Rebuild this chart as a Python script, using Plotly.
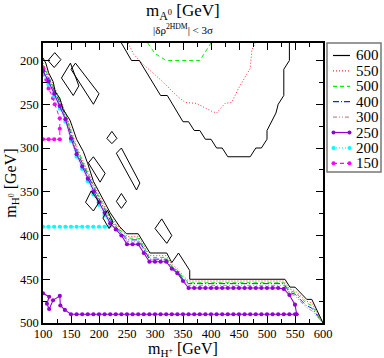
import plotly.graph_objects as go

# ---------------- data ----------------
# 600 GeV (black): main staircase boundary
s600_x = [100,105,110,118,122,130,136,142,148,152,160,172,180,190,200,210,220,237,249,270,291,321,330,342,362,362,532,541,550,571,580,600]
s600_y = [197,203,214,224,236,243,256,262,268,275,290,304,318,338,350,362,374,390,398,398,420,420,431,420,440,450,450,459,459,473,473,500]
# 600 GeV: upper "U" contour
s600u_x = [240,258,272,310,322,350,360,370,380,390,400,410,420,430,470,480,490,500,500,516,520,530,530,540,540]
s600u_y = [180,200,200,240,240,270,270,280,280,290,290,300,300,310,310,300,300,290,280,260,250,240,210,200,180]
# 600 GeV: small closed islands
isl_x = [
    [109,121,132,120,109],
    [133,149,164,154,133],
    [150,158,200,190,150],
    [214,223,232,223,214],
    [181,190,211,202,181],
    [231,240,273,267,231],
    [231,240,249,240,231],
    [300,312,330,321,300],
    [176,186,200,190,176],
    [207,215,225,218,207],
]
isl_y = [
    [200,191,199,208,200],
    [220,203,229,240,220],
    [210,203,238,250,210],
    [289,281,289,295,289],
    [317,310,329,339,317],
    [306,300,340,348,306],
    [361,352,361,369,361],
    [392,381,400,409,392],
    [362,349,362,372,362],
    [380,371,385,392,380],
]

# shared vertex positions of the 550/500/400/300 staircases
stair_x = [100,110,120,130,140,150,160,170,180,190,200,210,220,230,240,250,270,280,290,320,330,340,350,360,530,540,550,570,580,600]
s550_y = [203,216,230,244,259,279,298,313,327,342,354,366,378,386,393,401,401,411,423,423,433,438,446,452,452,461,463,475,477,500]
s500_y = [205,218,232,246,261,281,300,315,329,344,356,368,380,388,395,403,403,413,425,425,435,440,448,454,454,463,465,477,480,500]
s400_y = [207,220,234,248,263,284,303,317,331,346,358,370,382,390,397,405,405,415,427,427,436,441,450,455,455,465,467,480,483,500]
s300_y = [209,222,236,250,265,286,305,319,333,348,360,372,384,391,398,407,407,417,428,428,437,442,451,457,457,466,469,482,486,500]

# 550 GeV upper contour
s550u_x = [252,262,280,310,340,354,374,386,401,410,425,437,449,460,470,473,479]
s550u_y = [180,193,205,222,241,248,249,253,258,260,249,248,232,220,209,188,180]
# 500 GeV upper contour
s500u_x = [287,300,320,380,400]
s500u_y = [180,192,200,200,180]

# 250 GeV (violet, markers)
s250_x = [100,110,120,130,140,150,160,170,180,190,200,210,220,230,240,250,260,270,280,290,300,310,320,330,340,350,360,
          370,380,390,400,410,420,430,440,450,460,470,480,490,500,510,520,530,540,550,553,
          550,540,530,520,510,500,490,480,470,460,450,440,430,420,410,400,390,380,370,360,350,340,330,320,310,300,
          290,280,270,260,250,240,230,220,210,200,190,180,170,160,150,139,131,130,118,111,107,111,100]
s250_y = [212,224,238,252,267,289,307,321,335,350,362,374,386,393,400,410,410,410,420,430,430,430,430,438,443,452,460,
          460,460,460,460,460,460,460,460,460,460,460,460,460,460,460,460,461,468,479,490,
          490,490,490,490,490,490,490,490,490,490,490,490,490,490,490,490,490,490,490,490,490,490,490,490,490,490,
          490,490,490,490,490,490,490,490,490,490,490,490,490,490,490,485,480,469,474,484,478,470,466]

# 200 GeV (cyan, markers)
s200_x = [100,110,120,130,140,150,160,170,180,190,200,210,220,210,200,190,180,170,160,150,140,130,120,110,100]
s200_y = [390,390,390,390,390,390,390,390,390,390,390,390,389,377,365,353,338,324,310,292,270,255,241,227,215]

# 150 GeV (magenta, markers)
s150_x = [100,110,120,130,130,130,121,118,110,106,100,100]
s150_y = [290,290,290,290,278,266,250,243,232,222,216,209]

legend_labels = ["600", "550", "500", "400", "300", "250", "200", "150"]

# ---------------- styles ----------------
BLACK = "#000000"; RED = "#ff3030"; GREEN = "#00ee00"; BLUE = "#2020ff"
BROWN = "#bc8f8f"; VIOLET = "#9400d3"; CYAN = "#00ffff"; MAGENTA = "#ff00ff"
DOT = "1px,2px"; DASH = "4px,3px"; DASHDOT = "6px,2px,1px,2px"; DASHDOT2 = "4px,2px,1px,2px,1px,2px"
FONT = "Liberation Serif"

fig = go.Figure()

def add_line(x, y, color, dash, name, width=1.0, markers=False):
    fig.add_trace(go.Scatter(
        x=x, y=y, mode="lines+markers" if markers else "lines", name=name,
        line=dict(color=color, dash=dash, width=width),
        marker=dict(color=color, size=4.2, symbol="circle") if markers else None,
        showlegend=False, hoverinfo="skip"))

# black islands combined with None separators
ix, iy = [], []
for xs, ys in zip(isl_x, isl_y):
    ix += xs + [None]
    iy += ys + [None]

add_line(stair_x, s300_y, BROWN, DASHDOT2, "300")
add_line(stair_x, s400_y, BLUE, DASHDOT, "400")
add_line(stair_x, s500_y, GREEN, DASH, "500")
add_line(s500u_x, s500u_y, GREEN, DASH, "500")
add_line(stair_x, s550_y, RED, DOT, "550")
add_line(s550u_x, s550u_y, RED, DOT, "550")
add_line(s150_x, s150_y, MAGENTA, DASH, "150", markers=True)
add_line(s200_x, s200_y, CYAN, DOT, "200", markers=True)
add_line(s250_x, s250_y, VIOLET, "solid", "250", width=1.1, markers=True)
add_line(s600_x, s600_y, BLACK, "solid", "600")
add_line(s600u_x, s600u_y, BLACK, "solid", "600")
add_line(ix, iy, BLACK, "solid", "600")

# ---------------- axes ----------------
axis_common = dict(
    showgrid=False, zeroline=False, showline=True, linecolor="black", linewidth=1.5,
    mirror="allticks", ticks="inside", ticklen=7, tickwidth=1, tickcolor="black",
    tickfont=dict(family=FONT, size=12.5, color="black"),
    minor=dict(ticks="inside", ticklen=4, tickwidth=1, tickcolor="black", dtick=25),
)
fig.update_xaxes(range=[100, 600], tickmode="linear", tick0=100, dtick=50, ticklabelstandoff=-2, **axis_common)
fig.update_yaxes(range=[500, 180], tickmode="array", tickvals=[200,250,300,350,400,450,500],
                 ticklabelstandoff=0, **axis_common)

# ---------------- texts ----------------
ann = []
ann.append(dict(text="m<sub>A<sup>0</sup></sub> [GeV]", x=0.5, y=1.112, xref="paper", yref="paper",
                showarrow=False, font=dict(family=FONT, size=17, color="black"), xanchor="center", yanchor="middle"))
ann.append(dict(text="|δρ<sup>2HDM</sup>| < 3σ", x=0.5, y=1.05, xref="paper", yref="paper",
                showarrow=False, font=dict(family=FONT, size=11, color="black"), xanchor="center", yanchor="middle"))
ann.append(dict(text="m<sub>H<sup>+</sup></sub> [GeV]", x=0.5, y=-0.055, xref="paper", yref="paper",
                showarrow=False, font=dict(family=FONT, size=16, color="black"), xanchor="center", yanchor="top"))
ann.append(dict(text="m<sub>H<sup>0</sup></sub> [GeV]", x=-0.115, y=0.5, xref="paper", yref="paper", textangle=-90,
                showarrow=False, font=dict(family=FONT, size=16, color="black"), xanchor="center", yanchor="middle"))

# ---------------- custom legend (xmgrace style) ----------------
W = 280.0
def px2x(p): return (p - 43) / W
def py2y(p): return (323 - p) / W

shapes = [dict(type="rect", xref="paper", yref="paper", x0=px2x(327), x1=px2x(381), y0=py2y(172), y1=py2y(43),
               line=dict(color="#777777", width=1.5), fillcolor="white", layer="above")]
leg_styles = [(BLACK, "solid", False), (RED, DOT, False), (GREEN, DASH, False), (BLUE, DASHDOT, False),
              (BROWN, DASHDOT2, False), (VIOLET, "solid", True), (CYAN, DOT, True), (MAGENTA, DASH, True)]
for i, (lab, (col, dsh, mk)) in enumerate(zip(legend_labels, leg_styles)):
    yc = 55.5 + i * 15.4
    shapes.append(dict(type="line", xref="paper", yref="paper", x0=px2x(333), x1=px2x(350), y0=py2y(yc), y1=py2y(yc),
                       line=dict(color=col, dash=dsh, width=1.2), layer="above"))
    if mk:
        for cx in (333.5, 349.5):
            shapes.append(dict(type="circle", xref="paper", yref="paper", x0=px2x(cx - 2), x1=px2x(cx + 2),
                               y0=py2y(yc + 2), y1=py2y(yc - 2), fillcolor=col, line=dict(color=col, width=0),
                               layer="above"))
    ann.append(dict(text=lab, x=px2x(354), y=py2y(yc), xref="paper", yref="paper", showarrow=False,
                    xanchor="left", yanchor="middle", font=dict(family=FONT, size=15, color="black")))

fig.update_layout(
    width=384, height=358, margin=dict(l=43, r=61, t=43, b=35),
    paper_bgcolor="white", plot_bgcolor="white",
    annotations=ann, shapes=shapes, showlegend=False,
    font=dict(family=FONT, color="black"),
)
fig.write_html("out.html", config={"displayModeBar": False},
               post_script="document.body.style.margin='0';document.body.style.overflow='hidden';")
